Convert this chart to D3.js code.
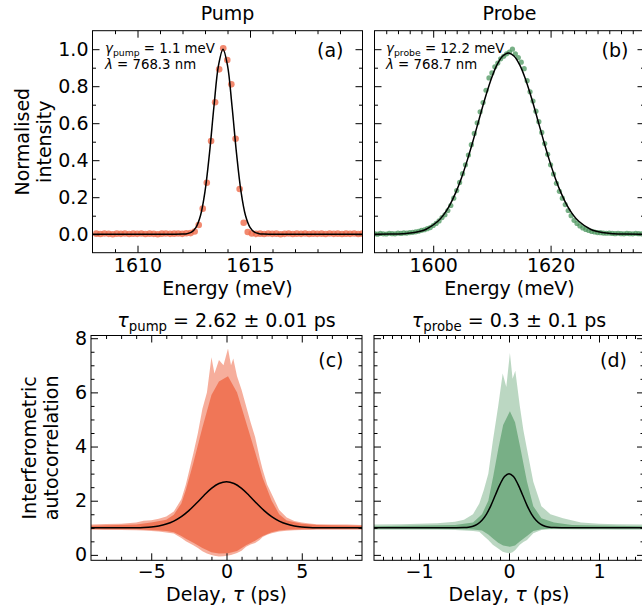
<!DOCTYPE html>
<html>
<head>
<meta charset="utf-8">
<script src="https://cdn.jsdelivr.net/npm/d3@7"></script>
<style>
  body { margin: 0; background: #fff; }
  svg text { font-family: "DejaVu Sans", sans-serif; fill: #000; }
</style>
</head>
<body>
<svg id="fig" width="642" height="606"></svg>
<script>
// ---- (a) pump spectrum: measured points + gaussian fit ----
var pumpEnergy = [
  1608.17, 1608.35, 1608.53, 1608.72, 1608.90, 1609.08, 1609.26, 1609.44, 1609.63, 1609.81,
  1609.99, 1610.17, 1610.35, 1610.54, 1610.72, 1610.90, 1611.08, 1611.26, 1611.45, 1611.63,
  1611.81, 1611.99, 1612.17, 1612.36, 1612.54, 1612.72, 1612.90, 1613.08, 1613.27, 1613.45,
  1613.63, 1613.81, 1613.99, 1614.17, 1614.36, 1614.54, 1614.72, 1614.90, 1615.08, 1615.27,
  1615.45, 1615.63, 1615.81, 1615.99, 1616.17, 1616.36, 1616.54, 1616.72, 1616.90, 1617.08,
  1617.27, 1617.45, 1617.63, 1617.81, 1617.99, 1618.18, 1618.36, 1618.54, 1618.72, 1618.90,
  1619.09, 1619.27, 1619.45, 1619.63, 1619.81, 1619.99
];
var pumpIntensity = [
  0.003, 0.001, 0.004, 0.002, 0.000, 0.003, 0.002, 0.004, 0.001, 0.003,
  0.002, 0.004, 0.001, 0.003, 0.002, 0.000, 0.003, 0.004, 0.002, 0.003,
  0.004, 0.002, 0.005, 0.006, 0.015, 0.050, 0.138, 0.278, 0.504, 0.713,
  0.891, 1.005, 0.942, 0.810, 0.516, 0.244, 0.062, 0.012, 0.004, 0.002,
  0.003, 0.001, 0.004, 0.002, 0.003, 0.000, 0.002, 0.004, 0.001, 0.003,
  0.002, 0.004, 0.001, 0.003, 0.002, 0.003, 0.001, 0.004, 0.002, 0.003,
  0.001, 0.003, 0.002, 0.004, 0.001, 0.003
];
var pumpFitEnergy = [1608, 1611.5, 1612.0, 1612.2, 1612.4, 1612.6, 1612.8, 1613.0, 1613.2, 1613.4,
  1613.6, 1613.8, 1614.0, 1614.2, 1614.4, 1614.6, 1614.8, 1615.0, 1615.2, 1615.4, 1615.6, 1616.0, 1620];
var pumpFit = [0, 0, 0.0006, 0.0028, 0.011, 0.037, 0.101, 0.231, 0.438, 0.693,
  0.912, 1.0, 0.912, 0.693, 0.438, 0.231, 0.101, 0.037, 0.011, 0.003, 0.0006, 0, 0];

// ---- (b) probe spectrum ----
var probeEnergy = [
  1590, 1590.5, 1591, 1591.5, 1592, 1592.5, 1593, 1593.5, 1594, 1594.5,
  1595, 1595.5, 1596, 1596.5, 1597, 1597.5, 1598, 1598.5, 1599, 1599.5,
  1600, 1600.5, 1601, 1601.5, 1602, 1602.5, 1603, 1603.5, 1604, 1604.5,
  1605, 1605.5, 1606, 1606.5, 1607, 1607.5, 1608, 1608.5, 1609, 1609.5,
  1610, 1610.5, 1611, 1611.5, 1612, 1612.5, 1613, 1613.5, 1614, 1614.5,
  1615, 1615.5, 1616, 1616.5, 1617, 1617.5, 1618, 1618.5, 1619, 1619.5,
  1620, 1620.5, 1621, 1621.5, 1622, 1622.5, 1623, 1623.5, 1624, 1624.5,
  1625, 1625.5, 1626, 1626.5, 1627, 1627.5, 1628, 1628.5, 1629, 1629.5,
  1630, 1630.5, 1631, 1631.5, 1632, 1632.5, 1633, 1633.5, 1634, 1634.5,
  1635, 1635.5, 1636
];
var probeIntensity = [
  0.003, 0.000, 0.004, 0.002, 0.001, 0.005, 0.003, 0.002, 0.006, 0.004,
  0.007, 0.006, 0.009, 0.010, 0.013, 0.016, 0.021, 0.024, 0.030, 0.036,
  0.047, 0.058, 0.072, 0.090, 0.105, 0.128, 0.155, 0.195, 0.236, 0.280,
  0.327, 0.375, 0.428, 0.484, 0.545, 0.602, 0.662, 0.712, 0.778, 0.845,
  0.872, 0.905, 0.925, 0.948, 0.962, 0.975, 0.985, 1.000, 0.975, 0.955,
  0.930, 0.895, 0.830, 0.770, 0.720, 0.665, 0.608, 0.550, 0.490, 0.432,
  0.375, 0.325, 0.275, 0.232, 0.195, 0.160, 0.128, 0.100, 0.075, 0.058,
  0.045, 0.034, 0.026, 0.020, 0.015, 0.012, 0.009, 0.008, 0.006, 0.005,
  0.006, 0.004, 0.003, 0.005, 0.003, 0.002, 0.004, 0.003, 0.002, 0.004,
  0.003, 0.002, 0.003
];
var probeFitEnergy = [1590, 1592.8, 1594.8, 1596.8, 1598.8, 1600.8, 1601.8, 1602.8, 1603.8, 1604.8,
  1605.8, 1606.8, 1607.8, 1608.8, 1609.8, 1610.8, 1611.8, 1612.8, 1613.8, 1614.8,
  1615.8, 1616.8, 1617.8, 1618.8, 1619.8, 1620.8, 1621.8, 1622.8, 1623.8, 1624.8,
  1626.8, 1628.8, 1630.8, 1632.8, 1636];
var probeFit = [0, 0.0006, 0.0026, 0.009, 0.027, 0.070, 0.106, 0.156, 0.222, 0.303,
  0.399, 0.506, 0.619, 0.731, 0.831, 0.911, 0.962, 0.98, 0.962, 0.911,
  0.831, 0.731, 0.619, 0.506, 0.399, 0.303, 0.222, 0.156, 0.106, 0.070,
  0.027, 0.009, 0.0026, 0.0006, 0];

// ---- (c) pump autocorrelation: envelope of the fringes + fit ----
var pumpDelay = [-9, -8, -7, -6, -5.5, -5, -4.5, -4, -3.5, -3, -2.7, -2.2, -1.9, -1.6, -1.3, -1.0, -0.8,
  -0.5, -0.2, 0.1, 0.3, 0.45, 0.7, 1.0, 1.3, 1.6, 1.9, 2.2, 2.4, 2.7, 3.0, 3.5, 4.0, 4.5, 5.0, 5.5, 6, 7, 8, 9];
var pumpUpper = [1.12, 1.14, 1.15, 1.20, 1.26, 1.28, 1.33, 1.42, 1.60, 2.05, 2.60, 3.75, 4.50, 5.40, 6.00, 7.30, 6.70,
  7.20, 7.00, 7.62, 7.00, 7.25, 6.60, 6.10, 5.50, 4.90, 4.35, 3.60, 3.15, 2.60, 2.25, 1.66, 1.38, 1.25, 1.20, 1.16, 1.13, 1.12, 1.12, 1.10];
var pumpLower = [0.93, 0.92, 0.92, 0.91, 0.90, 0.88, 0.86, 0.83, 0.79, 0.62, 0.50, 0.36, 0.25, 0.13, 0.05, 0.00, -0.03,
  -0.06, -0.05, -0.02, 0.00, 0.02, 0.07, 0.15, 0.30, 0.38, 0.44, 0.55, 0.66, 0.74, 0.80, 0.86, 0.89, 0.91, 0.92, 0.92, 0.93, 0.93, 0.93, 0.93];
var pumpCoreDelay = [-9, -6, -5, -4, -3.5, -3, -2.7, -2.2, -1.6, -1.0, -0.5, 0.1, 0.7, 1.3, 1.9, 2.4, 3.0, 3.5, 4.0, 5, 6, 9];
var pumpCoreUpper = [1.08, 1.12, 1.20, 1.30, 1.48, 1.90, 2.40, 3.40, 4.70, 5.90, 6.40, 6.60, 6.00, 4.90, 3.80, 2.85, 2.00, 1.50, 1.27, 1.15, 1.10, 1.08];
var pumpCoreLower = [0.96, 0.95, 0.92, 0.88, 0.84, 0.70, 0.60, 0.45, 0.25, 0.10, 0.05, 0.06, 0.14, 0.36, 0.52, 0.70, 0.84, 0.90, 0.93, 0.95, 0.96, 0.96];
var pumpFitDelay = [-9, -7, -6, -5.5, -5, -4.5, -4, -3.5, -3, -2.5, -2, -1.5, -1, -0.5, 0,
  0.5, 1, 1.5, 2, 2.5, 3, 3.5, 4, 4.5, 5, 5.5, 6, 7, 9];
var pumpFitAC = [1.0, 1.0005, 1.006, 1.015, 1.033, 1.070, 1.137, 1.248, 1.413, 1.636, 1.906, 2.193, 2.453, 2.634, 2.70,
  2.634, 2.453, 2.193, 1.906, 1.636, 1.413, 1.248, 1.137, 1.070, 1.033, 1.015, 1.006, 1.0005, 1.0];

// ---- (d) probe autocorrelation ----
var probeDelay = [-1.5, -1.2, -1.0, -0.8, -0.6, -0.5, -0.4, -0.33, -0.28, -0.23, -0.18, -0.12, -0.07, -0.03,
  0.01, 0.04, 0.07, 0.12, 0.16, 0.2, 0.27, 0.36, 0.46, 0.6, 0.8, 1.0, 1.2, 1.5];
var probeUpper = [1.12, 1.13, 1.15, 1.17, 1.22, 1.30, 1.50, 1.90, 2.40, 3.00, 4.20, 5.50, 6.70, 6.20,
  7.45, 6.50, 6.80, 5.50, 4.60, 3.90, 2.70, 1.80, 1.50, 1.35, 1.20, 1.15, 1.13, 1.12];
var probeLower = [0.93, 0.93, 0.93, 0.93, 0.92, 0.90, 0.88, 0.85, 0.70, 0.55, 0.37, 0.24, 0.12, 0.08,
  0.06, 0.10, 0.18, 0.37, 0.48, 0.55, 0.80, 0.92, 0.95, 0.95, 0.94, 0.94, 0.93, 0.93];
var probeCoreDelay = [-1.5, -0.6, -0.4, -0.3, -0.23, -0.175, -0.12, -0.065, 0.01, 0.067, 0.123, 0.2, 0.27, 0.36, 0.5, 0.7, 1.5];
var probeCoreUpper = [1.06, 1.10, 1.20, 1.50, 2.00, 2.90, 3.90, 4.80, 5.30, 4.90, 4.00, 2.70, 1.80, 1.35, 1.20, 1.10, 1.06];
var probeCoreLower = [0.97, 0.96, 0.94, 0.90, 0.75, 0.60, 0.45, 0.35, 0.30, 0.35, 0.50, 0.70, 0.88, 0.95, 0.97, 0.97, 0.97];
var probeFitDelay = [-1.5, -0.6, -0.5, -0.45, -0.4, -0.35, -0.3, -0.25, -0.2, -0.15, -0.1, -0.05, 0,
  0.05, 0.1, 0.15, 0.2, 0.25, 0.3, 0.35, 0.4, 0.45, 0.5, 0.6, 1.5];
var probeFitAC = [1.0, 1.0007, 1.008, 1.023, 1.059, 1.135, 1.277, 1.506, 1.83, 2.22, 2.605, 2.893, 3.0,
  2.893, 2.605, 2.22, 1.83, 1.506, 1.277, 1.135, 1.059, 1.023, 1.008, 1.0007, 1.0];

// ---- ticks ----
var specYTicks = [0, 0.2, 0.4, 0.6, 0.8, 1.0];
var pumpXTicks = [1610, 1615];
var probeXTicks = [1600, 1620];
var acYTicks = [0, 2, 4, 6, 8];
var pumpDelayTicks = [-5, 0, 5];
var probeDelayTicks = [-1, 0, 1];

var PUMP = '#ef6c4b';
var PROBE = '#4b955e';
var FS = 19;

var svg = d3.select('#fig');

function makePanel(id, box, xDom, yDom) {
  var x = d3.scaleLinear().domain(xDom).range([box.l, box.r]);
  var y = d3.scaleLinear().domain(yDom).range([box.b, box.t]);
  svg.append('clipPath').attr('id', 'clip-' + id).append('rect')
    .attr('x', box.l).attr('y', box.t)
    .attr('width', box.r - box.l).attr('height', box.b - box.t);
  var plot = svg.append('g').attr('clip-path', 'url(#clip-' + id + ')');
  return {x: x, y: y, plot: plot, box: box};
}

function minorTicks(lo, hi, step, majors) {
  return d3.range(Math.round(lo / step), Math.round(hi / step) + 1)
    .map(function(k) { return +(k * step).toFixed(4); })
    .filter(function(v) {
      return v > lo + 1e-9 && v < hi - 1e-9 &&
        !majors.some(function(m) { return Math.abs(m - v) < 1e-6; });
    });
}

function tidy(g) {
  g.select('.domain').remove();
  g.attr('font-size', FS).attr('font-family', null);
}

function drawAxes(p, o) {
  var b = p.box;
  var xMin = minorTicks(p.x.domain()[0], p.x.domain()[1], o.xMinorStep, o.xMajor);
  var yMin = minorTicks(p.y.domain()[0], p.y.domain()[1], o.yMinorStep, o.yMajor);
  var sides = [
    {ax: d3.axisBottom, sc: p.x, t: 'translate(0,' + b.b + ')', maj: o.xMajor, min: xMin, fmt: o.xFmt, pad: o.xPad},
    {ax: d3.axisTop, sc: p.x, t: 'translate(0,' + b.t + ')', maj: o.xMajor, min: xMin, fmt: null},
    {ax: d3.axisLeft, sc: p.y, t: 'translate(' + b.l + ',0)', maj: o.yMajor, min: yMin, fmt: o.yFmt, pad: 4},
    {ax: d3.axisRight, sc: p.y, t: 'translate(' + b.r + ',0)', maj: o.yMajor, min: yMin, fmt: null}
  ];
  sides.forEach(function(s) {
    svg.append('g').attr('transform', s.t)
      .call(s.ax(s.sc).tickValues(s.min).tickSizeInner(-3.5).tickSizeOuter(0).tickFormat(''))
      .call(tidy);
    svg.append('g').attr('transform', s.t)
      .call(s.ax(s.sc).tickValues(s.maj).tickSizeInner(-7).tickSizeOuter(0)
        .tickPadding(s.pad || 3).tickFormat(s.fmt ? s.fmt : ''))
      .call(tidy);
  });
  svg.append('rect')
    .attr('x', b.l).attr('y', b.t).attr('width', b.r - b.l).attr('height', b.b - b.t)
    .attr('fill', 'none').attr('stroke', '#000').attr('stroke-width', 1);
}

// text with italic greek letter and a subscript, matplotlib mathtext style
function mathText(x, y, size, parts, anchor) {
  var t = svg.append('text').attr('x', x).attr('y', y)
    .attr('font-size', size).attr('text-anchor', anchor || 'start');
  var shift = 0;
  parts.forEach(function(pt) {
    var ts = t.append('tspan').text(pt.t);
    if (pt.it) ts.attr('font-style', 'italic');
    if (pt.sub) {
      ts.attr('font-size', size * 0.7).attr('dy', size * 0.22);
      shift = size * 0.22;
    } else if (shift) {
      ts.attr('dy', -shift);
      shift = 0;
    }
  });
  return t;
}

function yLabel(x1, x2, yc, l1, l2) {
  [[x1, l1], [x2, l2]].forEach(function(d) {
    svg.append('text').attr('transform', 'translate(' + d[0] + ',' + yc + ') rotate(-90)')
      .attr('text-anchor', 'middle').attr('font-size', FS).text(d[1]);
  });
}

function fitLine(p, xs, ys) {
  var line = d3.line()
    .x(function(d, i) { return p.x(xs[i]); })
    .y(function(d, i) { return p.y(ys[i]); })
    .curve(d3.curveCatmullRom);
  p.plot.append('path').attr('d', line(xs))
    .attr('fill', 'none').attr('stroke', '#000').attr('stroke-width', 1.5);
}

function band(p, xs, hi, lo, color, op) {
  var area = d3.area()
    .x(function(d, i) { return p.x(xs[i]); })
    .y0(function(d, i) { return p.y(lo[i]); })
    .y1(function(d, i) { return p.y(hi[i]); });
  p.plot.append('path').attr('d', area(xs)).attr('fill', color).attr('fill-opacity', op);
}

var fmt1 = d3.format('.1f');
var fmt0 = d3.format('d');

// ---------- (a) ----------
var pa = makePanel('a', {l: 92.5, r: 362.5, t: 30.7, b: 252.7}, [1608, 1620], [-0.1, 1.1]);
pa.plot.selectAll('circle').data(pumpEnergy).enter().append('circle')
  .attr('cx', function(d) { return pa.x(d); })
  .attr('cy', function(d, i) { return pa.y(pumpIntensity[i]); })
  .attr('r', 3.3).attr('fill', PUMP).attr('fill-opacity', 0.8);
fitLine(pa, pumpFitEnergy, pumpFit);
drawAxes(pa, {xMajor: pumpXTicks, xMinorStep: 1, yMajor: specYTicks, yMinorStep: 0.1, xFmt: fmt0, yFmt: fmt1, xPad: 5.5});

// ---------- (b) ----------
var pb = makePanel('b', {l: 374.5, r: 644.5, t: 30.7, b: 252.7}, [1590, 1636], [-0.1, 1.1]);
pb.plot.selectAll('circle').data(probeEnergy).enter().append('circle')
  .attr('cx', function(d) { return pb.x(d); })
  .attr('cy', function(d, i) { return pb.y(probeIntensity[i]); })
  .attr('r', 2.6).attr('fill', PROBE).attr('fill-opacity', 0.75);
fitLine(pb, probeFitEnergy, probeFit);
drawAxes(pb, {xMajor: probeXTicks, xMinorStep: 2, yMajor: specYTicks, yMinorStep: 0.1, xFmt: fmt0, yFmt: null, xPad: 5.5});

// ---------- (c) ----------
var pc = makePanel('c', {l: 91, r: 362, t: 335.5, b: 560.3}, [-9, 9], [-0.2, 8.1]);
band(pc, pumpDelay, pumpUpper, pumpLower, PUMP, 0.55);
band(pc, pumpCoreDelay, pumpCoreUpper, pumpCoreLower, PUMP, 0.85);
fitLine(pc, pumpFitDelay, pumpFitAC);
drawAxes(pc, {xMajor: pumpDelayTicks, xMinorStep: 1, yMajor: acYTicks, yMinorStep: 0.5, xFmt: fmt0, yFmt: fmt0, xPad: 4.5});

// ---------- (d) ----------
var pd = makePanel('d', {l: 374, r: 644, t: 335.5, b: 560.3}, [-1.5, 1.5], [-0.2, 8.1]);
band(pd, probeDelay, probeUpper, probeLower, PROBE, 0.38);
band(pd, probeCoreDelay, probeCoreUpper, probeCoreLower, PROBE, 0.6);
fitLine(pd, probeFitDelay, probeFitAC);
drawAxes(pd, {xMajor: probeDelayTicks, xMinorStep: 0.1, yMajor: acYTicks, yMinorStep: 0.5, xFmt: fmt0, yFmt: null, xPad: 4.5});

// ---------- titles, labels, annotations ----------
svg.append('text').attr('x', 227.5).attr('y', 20).attr('text-anchor', 'middle').attr('font-size', FS).text('Pump');
svg.append('text').attr('x', 509.5).attr('y', 20).attr('text-anchor', 'middle').attr('font-size', FS).text('Probe');

mathText(226.5, 327, FS, [{t: 'τ', it: true}, {t: 'pump', sub: true}, {t: ' = 2.62 ± 0.01 ps'}], 'middle');
mathText(509, 327, FS, [{t: 'τ', it: true}, {t: 'probe', sub: true}, {t: ' = 0.3 ± 0.1 ps'}], 'middle');

mathText(105, 53, 13.3, [{t: 'γ', it: true}, {t: 'pump', sub: true}, {t: ' = 1.1 meV'}]);
mathText(105, 68.5, 13.3, [{t: 'λ', it: true}, {t: ' = 768.3 nm'}]);
mathText(386, 53, 13.3, [{t: 'γ', it: true}, {t: 'probe', sub: true}, {t: ' = 12.2 meV'}]);
mathText(386, 68.5, 13.3, [{t: 'λ', it: true}, {t: ' = 768.7 nm'}]);

[['(a)', 343.5, 56.5], ['(b)', 628.5, 56.5], ['(c)', 343.5, 367], ['(d)', 627, 367]].forEach(function(d) {
  svg.append('text').attr('x', d[1]).attr('y', d[2]).attr('text-anchor', 'end')
    .attr('font-size', 19).text(d[0]);
});

svg.append('text').attr('x', 227.5).attr('y', 295).attr('text-anchor', 'middle').attr('font-size', FS).text('Energy (meV)');
svg.append('text').attr('x', 509.5).attr('y', 295).attr('text-anchor', 'middle').attr('font-size', FS).text('Energy (meV)');
mathText(226.5, 601, FS, [{t: 'Delay, '}, {t: 'τ', it: true}, {t: ' (ps)'}], 'middle');
mathText(509, 601, FS, [{t: 'Delay, '}, {t: 'τ', it: true}, {t: ' (ps)'}], 'middle');

yLabel(29, 51, 141.7, 'Normalised', 'intensity');
yLabel(36, 57.5, 447.9, 'Interferometric', 'autocorrelation');
</script>
</body>
</html>
